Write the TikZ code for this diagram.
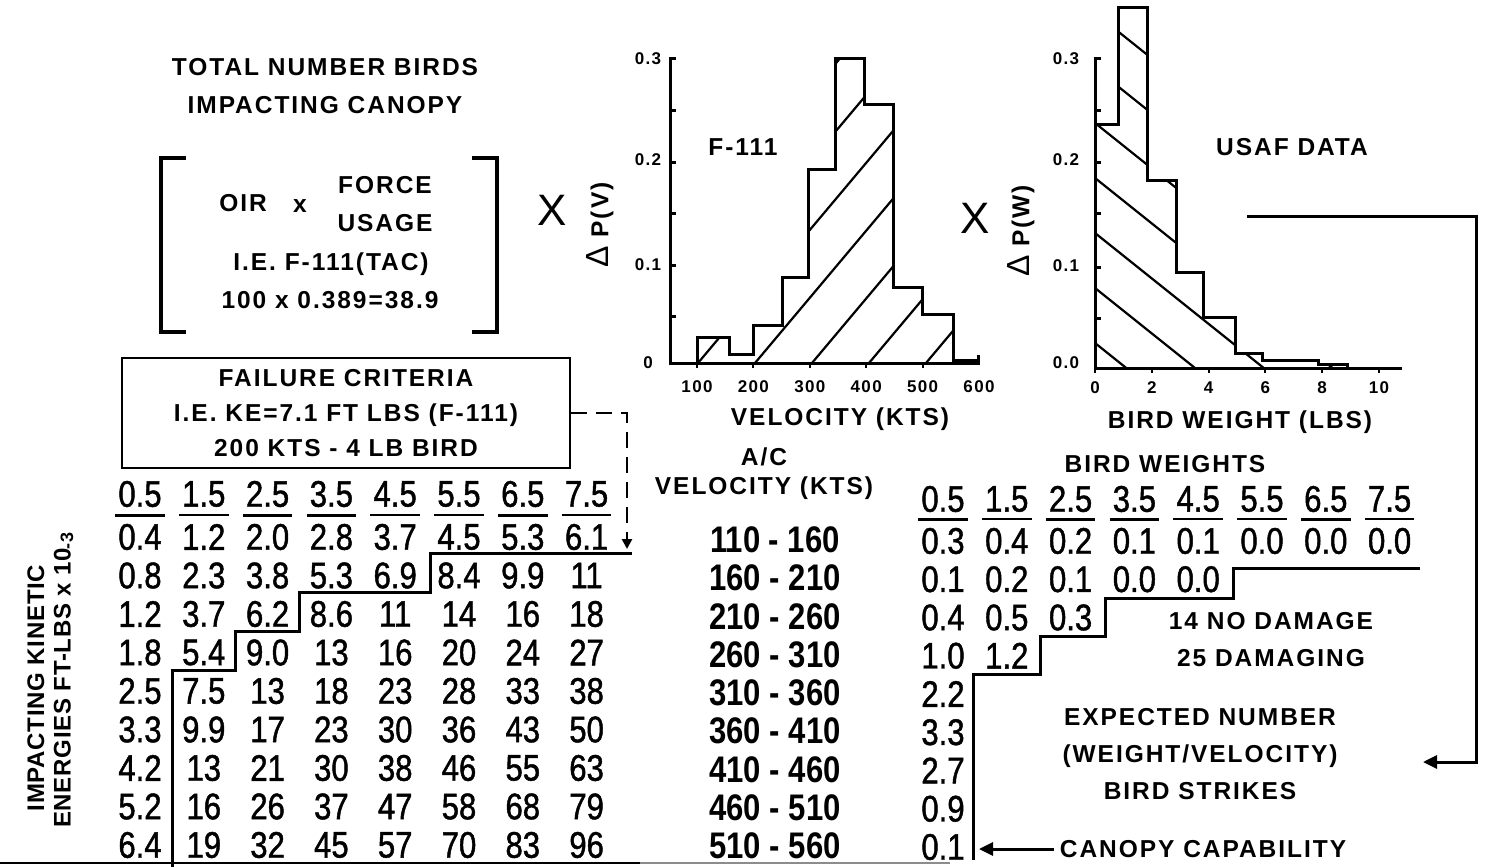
\documentclass[tikz,border=0pt]{standalone}
\usepackage{fontspec}
\setmainfont{Liberation Sans}
\newfontfamily\lblfont{Liberation Sans}[LetterSpace=8]
\newfontfamily\axfont{Liberation Sans}[LetterSpace=3]
\newfontfamily\numfont{Liberation Sans}[FakeStretch=0.84, FakeBold=1.2]
\newfontfamily\velfont{Liberation Sans Bold}[FakeStretch=0.84]
\usetikzlibrary{arrows.meta, positioning, calc}

\begin{document}
\begin{tikzpicture}[
    x=1pt, y=-1pt,
    lbl/.style={font=\fontsize{24.5}{38}\selectfont\lblfont\bfseries, inner sep=0pt, align=center},
    ticklbl/.style={font=\fontsize{17}{20}\selectfont\lblfont\bfseries, inner sep=0pt},
    num/.style={font=\fontsize{37}{40}\selectfont\numfont, inner sep=0pt},
    velnum/.style={font=\fontsize{37}{40}\selectfont\velfont, inner sep=0pt},
    bigx/.style={font=\fontsize{44}{44}\selectfont, inner sep=0pt},
    heavy/.style={line width=3pt, line join=miter},
    hatchline/.style={line width=2.2pt},
    fracbar/.style={line width=2.5pt},
    arrow/.style={line width=3pt, -{Triangle[length=14pt, width=13pt]}},
    dashline/.style={line width=2.5pt, dash pattern=on 16pt off 9pt, -{Triangle[length=10pt, width=10pt]}}
]
\useasboundingbox (0,0) rectangle (1489,867);
\fill[white] (0,0) rectangle (1489,867);

% total number of birds
\node[lbl] (title) at (325,86) {TOTAL NUMBER BIRDS\\IMPACTING CANOPY};
\draw[line width=3.5pt] (186,158) -- (161,158) -- (161,332) -- (186,332);
\draw[line width=3.5pt] (472,158) -- (497,158) -- (497,332) -- (472,332);
\node[lbl] (oir) at (243,203) {OIR};
\node[lbl] (times0) at (300,206) {x};
\node[lbl] (usage) at (385,204) {FORCE\\USAGE};
\node[lbl] (tac) at (331,264) {I.E. F-111(TAC)};
\node[lbl] (oirval) at (330,300) {100 x 0.389=38.9};
\node[bigx] (times1) at (552,210) {X};
\node[bigx] (times2) at (975,218) {X};

% velocity histogram
\node[lbl, rotate=90] (dpv) at (600,225) {{\mdseries\fontsize{32}{32}\selectfont Δ} P(V)};
\node[lbl] (f111) at (743,147) {F-111};
\path[save path=\velpath] (670,363) -- (697,363) -- (697,337) -- (729,337) -- (729,354) -- (753,354)
  -- (753,325) -- (782,325) -- (782,277) -- (808,277) -- (808,169) -- (835,169) -- (835,59)
  -- (864,59) -- (864,104) -- (893,104) -- (893,287) -- (922,287) -- (922,314) -- (953,314)
  -- (953,360) -- (978,360) -- (978,363) -- cycle;
\begin{scope}
  \clip[use path=\velpath];
  \foreach \i in {0,...,7}
    \draw[hatchline] ({584+57*\i},363) -- ++(300,-357);
\end{scope}
\draw[heavy, use path=\velpath];
\draw[heavy] (676,59) -- (670,59) -- (670,363) -- (978,363) -- (978,355);
\foreach \t in {110.5,162,213.5,265,316.5}
  \draw[heavy] (670,\t) -- (676,\t);
\foreach \k in {0,...,4}
  \draw[line width=2pt] ({697+56.4*\k},363) -- ++(0,5);
\foreach \v/\t [count=\k] in {0.3/59,0.2/160,0.1/265}
  \node[ticklbl] (pv-\k) at (648,\t) {\v};
\node[ticklbl] (pv-0) at (648,363) {0};
\foreach \v [count=\k from 0] in {100,200,300,400,500,600}
  \node[ticklbl] (vx-\k) at ({697+56.4*\k},387) {\v};
\node[lbl] (velx) at (840,419) {VELOCITY (KTS)};

% bird weight histogram
\node[lbl, rotate=90] (dpw) at (1021,231) {{\mdseries\fontsize{32}{32}\selectfont Δ} P(W)};
\node[lbl] (usaf) at (1292,147) {USAF DATA};
\path[save path=\wtpath] (1095,368) -- (1095,124) -- (1118,124) -- (1118,8) -- (1147,8) -- (1147,180)
  -- (1176,180) -- (1176,272) -- (1203,272) -- (1203,317) -- (1235,317) -- (1235,353)
  -- (1262,353) -- (1262,360) -- (1318,360) -- (1318,364) -- (1347,364) -- (1347,368) -- cycle;
\begin{scope}
  \clip[use path=\wtpath];
  \foreach \i in {-1,...,6}
    \draw[hatchline] (1095,{343-55*\i}) -- ++(400,320);
\end{scope}
\draw[heavy, use path=\wtpath];
\draw[heavy] (1101,59) -- (1095,59) -- (1095,368) -- (1402,368);
\foreach \t in {110,162,213,267,318}
  \draw[heavy] (1095,\t) -- (1101,\t);
\foreach \k in {0,...,5}
  \draw[line width=2pt] ({1095+56.8*\k},368) -- ++(0,5);
\foreach \v/\t [count=\k] in {0.3/59,0.2/160,0.1/266,0.0/363}
  \node[ticklbl] (pw-\k) at (1066,\t) {\v};
\foreach \v [count=\k from 0] in {0,2,4,6,8,10}
  \node[ticklbl] (wx-\k) at ({1095+56.8*\k},388) {\v};
\node[lbl] (wtx) at (1240,422) {BIRD WEIGHT (LBS)};

% failure criteria
\node[lbl, draw, line width=2.5pt, minimum width=448pt, minimum height=110pt,
  font=\fontsize{24.5}{35}\selectfont\lblfont\bfseries] (fail) at (346,413)
  {FAILURE CRITERIA\\I.E. KE=7.1 FT LBS (F-111)\\200 KTS - 4 LB BIRD};
\coordinate (ketip) at (627,549);
\draw[dashline] (fail.east) -| (ketip);

% kinetic energy table
\node[lbl, rotate=90, font=\fontsize{24}{26.5}\selectfont\axfont\bfseries] (kelbl) at (49,688)
  {IMPACTING KINETIC\\ENERGIES FT-LBS x 10};
\node[ticklbl, rotate=90, font=\fontsize{18}{18}\selectfont\axfont\bfseries] (keexp) at (67,541) {-3};
\foreach \v [count=\c from 0] in {0.5,1.5,2.5,3.5,4.5,5.5,6.5,7.5} {
  \node[num] (kn-\c) at ({140+63.8*\c},494) {\v};
  \draw[fracbar] ([shift={(-3pt,-8pt)}]kn-\c.south west) -- ([shift={(3pt,-8pt)}]kn-\c.south east);
}
\foreach \vals [count=\r from 0] in {{0.4,1.2,2.0,2.8,3.7,4.5,5.3,6.1},{0.8,2.3,3.8,5.3,6.9,8.4,9.9,11},
    {1.2,3.7,6.2,8.6,11,14,16,18},{1.8,5.4,9.0,13,16,20,24,27},{2.5,7.5,13,18,23,28,33,38},
    {3.3,9.9,17,23,30,36,43,50},{4.2,13,21,30,38,46,55,63},{5.2,16,26,37,47,58,68,79},
    {6.4,19,32,45,57,70,83,96}}
  \foreach \v [count=\c from 0] in \vals
    \node[num] (ke-\r-\c) at ({140+63.8*\c},{537+38.5*\r}) {\v};
\draw[heavy] (632,553) -- (430,553) -- (430,592) -- (299,592) -- (299,631) -- (235,631)
  -- (235,670) -- (172,670) -- (172,867);

% aircraft velocity column
\node[lbl, font=\fontsize{24.5}{29}\selectfont\lblfont\bfseries] (aclbl) at (764,474) {A/C\\VELOCITY (KTS)};
\foreach \a/\b [count=\r from 0] in {110/160,160/210,210/260,260/310,310/360,360/410,410/460,460/510,510/560}
  \node[velnum] (vel-\r) at (775,{540+38.25*\r}) {\a\ - \b};

% bird weight table
\node[lbl] (wtlbl) at (1165,464) {BIRD WEIGHTS};
\foreach \v [count=\c from 0] in {0.5,1.5,2.5,3.5,4.5,5.5,6.5,7.5} {
  \node[num] (wn-\c) at ({943+63.8*\c},499) {\v};
  \draw[fracbar] ([shift={(-3pt,-7pt)}]wn-\c.south west) -- ([shift={(3pt,-7pt)}]wn-\c.south east);
}
\foreach \vals [count=\r from 0] in {{0.3,0.4,0.2,0.1,0.1,0.0,0.0,0.0},{0.1,0.2,0.1,0.0,0.0},
    {0.4,0.5,0.3},{1.0,1.2},{2.2},{3.3},{2.7},{0.9},{0.1}}
  \foreach \v [count=\c from 0] in \vals
    \node[num] (wt-\r-\c) at ({943+63.8*\c},{541+38.25*\r}) {\v};
\draw[heavy] (1420,568) -- (1233,568) -- (1233,598) -- (1105,598) -- (1105,636) -- (1040,636)
  -- (1040,674) -- (973,674) -- (973,860);
\node[lbl, font=\fontsize{24.5}{37}\selectfont\lblfont\bfseries] (dmg) at (1271,639.5) {14 NO DAMAGE\\25 DAMAGING};
\node[lbl, font=\fontsize{24.5}{37}\selectfont\lblfont\bfseries] (expnum) at (1200,754)
  {EXPECTED NUMBER\\(WEIGHT/VELOCITY)\\BIRD STRIKES};
\node[lbl] (canopy) at (1203,849) {CANOPY CAPABILITY};
\coordinate (canopytip) at (979,849);
\draw[arrow, shorten <=6pt] (canopy) -- (canopytip);
\coordinate (usafout) at (1247,216);
\coordinate (exptip) at (1423,762);
\draw[arrow] (usafout) -- ++(229,0) |- (exptip);

% page edge
\draw[line width=2.5pt] (0,863) -- (640,863);
\draw[line width=2.5pt, black!45] (640,863) -- (950,863);
\end{tikzpicture}
\end{document}
